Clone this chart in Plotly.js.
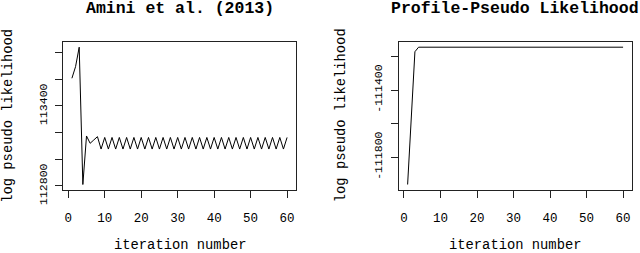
<!DOCTYPE html>
<html>
<head>
<meta charset="utf-8">
<script src="https://cdn.plot.ly/plotly-3.0.1.min.js"></script>
<style>html,body{margin:0;padding:0;background:#fff;}#chart{width:640px;height:253px;}</style>
</head>
<body>
<div id="chart"></div>
<script>
// ---- data ----
const iterations = Array.from({length: 60}, (_, i) => i + 1);
const aminiLL = [
  113608, 113695, 113841, 112811, 113175, 113120, 113145, 113170,
  113077, 113164, 113077, 113164, 113077, 113164, 113077, 113164,
  113077, 113164, 113077, 113164, 113077, 113164, 113077, 113164,
  113077, 113164, 113077, 113164, 113077, 113164, 113077, 113164,
  113077, 113164, 113077, 113164, 113077, 113164, 113077, 113164,
  113077, 113164, 113077, 113164, 113077, 113164, 113077, 113164,
  113077, 113164, 113077, 113164, 113077, 113164, 113077, 113164,
  113077, 113164, 113077, 113164
];
const profileLL = [
  -111962, -111570, -111170, -111143, -111143, -111143, -111143, -111143,
  -111143, -111143, -111143, -111143, -111143, -111143, -111143, -111143,
  -111143, -111143, -111143, -111143, -111143, -111143, -111143, -111143,
  -111143, -111143, -111143, -111143, -111143, -111143, -111143, -111143,
  -111143, -111143, -111143, -111143, -111143, -111143, -111143, -111143,
  -111143, -111143, -111143, -111143, -111143, -111143, -111143, -111143,
  -111143, -111143, -111143, -111143, -111143, -111143, -111143, -111143,
  -111143, -111143, -111143, -111143
];
const xTicks = [0, 10, 20, 30, 40, 50, 60];
const leftYTicks = [112800, 113000, 113200, 113400, 113600, 113800];
const leftYText = ['112800', '', '', '113400', '', ''];
const rightYTicks = [-111800, -111600, -111400, -111200];
const rightYText = ['-111800', '', '-111400', ''];
const titles = ['Amini et al. (2013)', 'Profile-Pseudo Likelihood'];
const xTitle = 'iteration number';
const yTitle = 'log pseudo likelihood';

// R-style range: data extent padded by 4%
function rRange(v) {
  const lo = Math.min(...v), hi = Math.max(...v), p = (hi - lo) * 0.04;
  return [lo - p, hi + p];
}

const FONT = 'Liberation Mono, Courier New, monospace';
const W = 640, H = 253;

const traces = [
  {x: iterations, y: aminiLL, xaxis: 'x', yaxis: 'y', type: 'scatter', mode: 'lines',
   line: {color: '#000', width: 1}, hoverinfo: 'skip'},
  {x: iterations, y: profileLL, xaxis: 'x2', yaxis: 'y2', type: 'scatter', mode: 'lines',
   line: {color: '#000', width: 1}, hoverinfo: 'skip'}
];

const baseAxis = {
  showgrid: false, zeroline: false, showline: true, mirror: true,
  linecolor: '#222', linewidth: 1, ticks: 'outside', ticklen: 7, tickwidth: 1,
  tickcolor: '#222', fixedrange: true
};

const yDom = [(H - 190) / H, (H - 41.7) / H];
const layout = {
  width: W, height: H, margin: {l: 0, r: 0, t: 0, b: 0},
  paper_bgcolor: '#fff', plot_bgcolor: '#fff', showlegend: false,
  font: {family: FONT, color: '#000'},
  xaxis: Object.assign({}, baseAxis, {
    domain: [63.3 / W, 295.7 / W], anchor: 'y', range: rRange(iterations),
    tickvals: xTicks, tickfont: {family: FONT, size: 12.5, color: '#000'},
    ticklabelstandoff: 9
  }),
  yaxis: Object.assign({}, baseAxis, {
    domain: yDom, anchor: 'x', range: rRange(aminiLL),
    tickvals: leftYTicks, ticktext: leftYText, tickangle: -90,
    tickfont: {family: FONT, size: 11.5, color: '#000'}, ticklabelstandoff: 4
  }),
  xaxis2: Object.assign({}, baseAxis, {
    domain: [399 / W, 631.7 / W], anchor: 'y2', range: rRange(iterations),
    tickvals: xTicks, tickfont: {family: FONT, size: 12.5, color: '#000'},
    ticklabelstandoff: 9
  }),
  yaxis2: Object.assign({}, baseAxis, {
    domain: yDom, anchor: 'x2', range: rRange(profileLL),
    tickvals: rightYTicks, ticktext: rightYText, tickangle: -90,
    tickfont: {family: FONT, size: 11.5, color: '#000'}, ticklabelstandoff: 4
  }),
  annotations: [
    {text: '<b>' + titles[0] + '</b>', xref: 'paper', yref: 'paper', x: 179.5 / W, y: 1 - 8.5 / H,
     xanchor: 'center', yanchor: 'middle', showarrow: false, font: {family: FONT, size: 16.5, color: '#000'}},
    {text: '<b>' + titles[1] + '</b>', xref: 'paper', yref: 'paper', x: 515.3 / W, y: 1 - 8.5 / H,
     xanchor: 'center', yanchor: 'middle', showarrow: false, font: {family: FONT, size: 16.5, color: '#000'}},
    {text: xTitle, xref: 'paper', yref: 'paper', x: 179.5 / W, y: 1 - 245.5 / H,
     xanchor: 'center', yanchor: 'middle', showarrow: false, font: {family: FONT, size: 13.8, color: '#000'}},
    {text: xTitle, xref: 'paper', yref: 'paper', x: 515.3 / W, y: 1 - 245.5 / H,
     xanchor: 'center', yanchor: 'middle', showarrow: false, font: {family: FONT, size: 13.8, color: '#000'}},
    {text: yTitle, xref: 'paper', yref: 'paper', x: 8.3 / W, y: 1 - 115.5 / H, textangle: -90,
     xanchor: 'center', yanchor: 'middle', showarrow: false, font: {family: FONT, size: 13.8, color: '#000'}},
    {text: yTitle, xref: 'paper', yref: 'paper', x: 341.7 / W, y: 1 - 115.5 / H, textangle: -90,
     xanchor: 'center', yanchor: 'middle', showarrow: false, font: {family: FONT, size: 13.8, color: '#000'}}
  ]
};

Plotly.newPlot('chart', traces, layout, {staticPlot: true, displayModeBar: false});
</script>
</body>
</html>
